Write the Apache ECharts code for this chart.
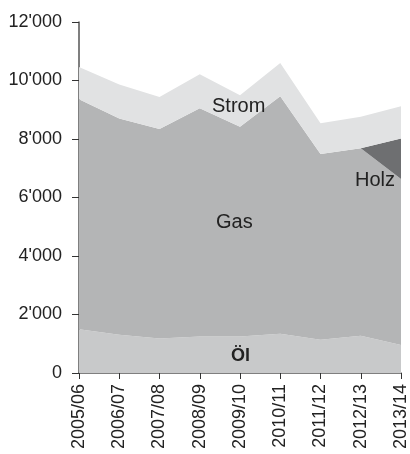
<!DOCTYPE html>
<html><head><meta charset="utf-8">
<script src="https://cdn.jsdelivr.net/npm/echarts@6/dist/echarts.min.js"></script>
<style>html,body{margin:0;padding:0;background:#fff}#c{width:410px;height:454px}</style>
</head><body><div id="c"></div>
<script>
const categories = ['2005/06','2006/07','2007/08','2008/09','2009/10','2010/11','2011/12','2012/13','2013/14'];
const oel   = [1500, 1310, 1180, 1250, 1250, 1340, 1140, 1270, 960];
const gas   = [7860, 7390, 7160, 7800, 7170, 8120, 6350, 6410, 5670];
const holz  = [0, 0, 0, 0, 0, 0, 0, 0, 1390];
const strom = [1100, 1160, 1100, 1160, 1080, 1140, 1050, 1080, 1100];
const yTicks = [0, 2000, 4000, 6000, 8000, 10000, 12000];

const FF = 'Liberation Sans';
const chart = echarts.init(document.getElementById('c'));
const fmt = v => String(v).replace(/\B(?=(\d{3})+(?!\d))/g, "'");
function area(name, data, color) {
  return {name, type: 'line', stack: 'total', data, symbol: 'none',
    lineStyle: {width: 0}, areaStyle: {color, opacity: 1}, itemStyle: {color}, silent: true};
}
chart.setOption({
  animation: false,
  textStyle: {fontFamily: FF},
  grid: {left: 79, right: 7, top: 22, bottom: 81},
  xAxis: {type: 'category', data: categories, boundaryGap: false,
    axisLine: {lineStyle: {color: '#555', width: 1.5}},
    axisTick: {alignWithLabel: true, length: 6, lineStyle: {color: '#333'}},
    axisLabel: {rotate: 90, color: '#222', fontSize: 18, fontFamily: FF, margin: 11, interval: 0}},
  yAxis: {type: 'value', min: yTicks[0], max: yTicks[yTicks.length-1], interval: 2000,
    splitLine: {show: false},
    axisLine: {show: true, lineStyle: {color: '#555', width: 1.5}},
    axisTick: {show: true, length: 7, lineStyle: {color: '#333'}},
    axisLabel: {color: '#222', fontSize: 18, fontFamily: FF, margin: 17, formatter: fmt}},
  series: [
    area('Öl', oel, '#c8c9ca'),
    area('Gas', gas, '#b4b5b6'),
    area('Holz', holz, '#6e6f71'),
    area('Strom', strom, '#e1e2e3')
  ],
  graphic: [
    {type: 'text', z: 100, left: 212, top: 96, style: {text: 'Strom', fontSize: 20, fill: '#222', fontFamily: FF}},
    {type: 'text', z: 100, left: 216, top: 212, style: {text: 'Gas', fontSize: 20, fill: '#222', fontFamily: FF}},
    {type: 'text', z: 100, left: 355, top: 170, style: {text: 'Holz', fontSize: 20, fill: '#222', fontFamily: FF}},
    {type: 'text', z: 100, left: 231, top: 347, style: {text: 'Öl', fontSize: 18, fontWeight: 'bold', fill: '#222', fontFamily: FF}}
  ]
});
</script></body></html>
